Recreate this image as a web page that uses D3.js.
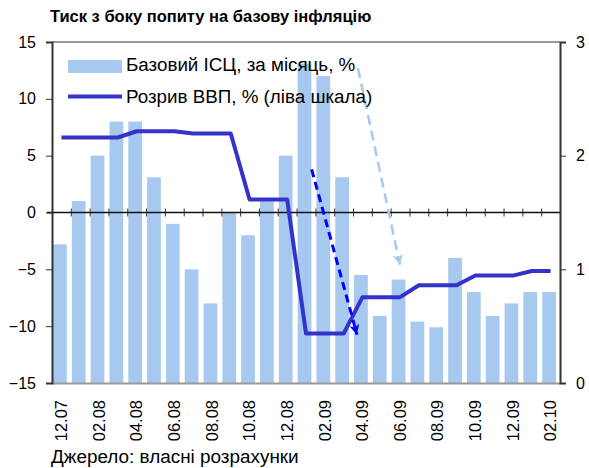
<!DOCTYPE html>
<html>
<head>
<meta charset="utf-8">
<script src="https://cdn.jsdelivr.net/npm/d3@7"></script>
<style>
  body { margin: 0; background: #fff; }
  text { font-family: "Liberation Sans", Arial, sans-serif; }
</style>
</head>
<body>
<div class="canvas"></div>
<script>
const w = 589;
const h = 468;

// data
const months = ["12.07", "01.08", "02.08", "03.08", "04.08", "05.08", "06.08", "07.08", "08.08",
  "09.08", "10.08", "11.08", "12.08", "01.09", "02.09", "03.09", "04.09", "05.09", "06.09",
  "07.09", "08.09", "09.09", "10.09", "11.09", "12.09", "01.10", "02.10"];
// core CPI, month on month, % (right axis)
const coreCpi = [1.22, 1.6, 2.0, 2.3, 2.3, 1.81, 1.4, 1.0, 0.7, 1.5, 1.3, 1.6, 2.0, 2.81,
  2.7, 1.81, 0.95, 0.59, 0.91, 0.54, 0.49, 1.1, 0.8, 0.59, 0.7, 0.8, 0.8];
// output gap, % (left axis)
const gdpGap = [6.6, 6.6, 6.6, 6.6, 7.15, 7.15, 7.15, 6.95, 6.95, 6.95, 1.15, 1.15, 1.15,
  -10.65, -10.65, -10.65, -7.45, -7.45, -7.45, -6.4, -6.4, -6.4, -5.55, -5.55, -5.55, -5.15, -5.15];
const leftTicks = [-15, -10, -5, 0, 5, 10, 15];
const rightTicks = [0, 1, 2, 3];
const labelMonths = months.filter((d, i) => i % 2 === 0);
// annotation arrows: [month index, left-axis value] start -> end
const arrows = [
  { from: [13.3, 3.8], to: [15.71, -10.75], color: "#0000ff", dash: "8,5", id: "dark" },
  { from: [15.76, 12.7], to: [17.99, -4.6], color: "#a7c9ef", dash: "10,6", id: "light" }
];

const margin = { top: 42, right: 29, bottom: 85, left: 52 };
const graphWidth = w - margin.left - margin.right;
const graphHeight = h - margin.top - margin.bottom;

const svg = d3.select(".canvas").append("svg").attr("width", w).attr("height", h);

const x = d3.scaleBand().domain(months).range([0, graphWidth]).paddingInner(0.27).paddingOuter(0.135);
const xi = d3.scaleLinear().domain([-0.5, months.length - 0.5]).range([0, graphWidth]);
const yL = d3.scaleLinear().domain([-15, 15]).range([graphHeight, 0]);
const yR = d3.scaleLinear().domain([0, 3]).range([graphHeight, 0]);

const defs = svg.append("defs");
arrows.forEach((a) => {
  defs.append("marker")
    .attr("id", "head-" + a.id)
    .attr("viewBox", "0 0 10 10")
    .attr("refX", 10).attr("refY", 5)
    .attr("markerUnits", "userSpaceOnUse")
    .attr("markerWidth", 12).attr("markerHeight", 10)
    .attr("orient", "auto")
    .append("path")
    .attr("d", "M0,0 L10,5 L0,10 L2.5,5 Z")
    .attr("fill", a.color);
});

// title
svg.append("text")
  .attr("x", 50).attr("y", 22)
  .style("font-weight", "bold").style("font-size", "16.5px")
  .text("Тиск з боку попиту на базову інфляцію");

const graph = svg.append("g").attr("transform", `translate(${margin.left}, ${margin.top})`);

// top frame line
graph.append("line")
  .attr("x1", 0).attr("x2", graphWidth).attr("y1", 0).attr("y2", 0)
  .attr("stroke", "#999").attr("stroke-width", 2);

// bars
graph.selectAll("rect.bar")
  .data(coreCpi)
  .enter()
  .append("rect")
  .attr("class", "bar")
  .attr("x", (d, i) => x(months[i]) - 1.5)
  .attr("y", (d) => yR(d))
  .attr("width", x.bandwidth())
  .attr("height", (d) => graphHeight - yR(d))
  .attr("fill", "#a7c9ef");

// zero line with crossing ticks
const zeroAxis = d3.axisBottom(xi)
  .tickValues(d3.range(0.5, months.length - 1, 1))
  .tickSize(8).tickFormat("");
graph.append("g")
  .attr("transform", `translate(0, ${yL(0) - 4})`)
  .call(zeroAxis)
  .call((g) => g.select(".domain").remove())
  .call((g) => g.selectAll("line").attr("stroke", "#333"));
graph.append("line")
  .attr("x1", -5).attr("x2", graphWidth).attr("y1", yL(0)).attr("y2", yL(0))
  .attr("stroke", "#111").attr("stroke-width", 1.5);

// line series
const line = d3.line().x((d, i) => xi(i)).y((d) => yL(d));
graph.append("path")
  .datum(gdpGap)
  .attr("d", line)
  .attr("fill", "none")
  .attr("stroke", "#3333cc")
  .attr("stroke-width", 4)
  .attr("stroke-linejoin", "round");

// annotation arrows
arrows.forEach((a) => {
  graph.append("line")
    .attr("x1", xi(a.from[0])).attr("y1", yL(a.from[1]))
    .attr("x2", xi(a.to[0])).attr("y2", yL(a.to[1]))
    .attr("stroke", a.color)
    .attr("stroke-width", a.id === "dark" ? 3 : 2.5)
    .attr("stroke-dasharray", a.dash)
    .attr("marker-end", `url(#head-${a.id})`);
});

// axes
const xAxis = d3.axisBottom(x).tickValues(labelMonths).tickSize(0);
graph.append("g")
  .attr("id", "x-axis")
  .attr("transform", `translate(0, ${graphHeight})`)
  .call(xAxis)
  .call((g) => g.select(".domain").attr("stroke", "#999").attr("stroke-width", 2))
  .selectAll("text")
  .attr("transform", "rotate(-90)")
  .attr("text-anchor", "end")
  .attr("x", -17).attr("y", 0).attr("dy", "0.35em")
  .style("font-size", "16.5px").attr("fill", "#000");

const yAxis = d3.axisLeft(yL).tickValues(leftTicks).tickSize(6).tickPadding(10).tickFormat(d3.format("d"));
graph.append("g")
  .attr("id", "y-axis")
  .call(yAxis)
  .call((g) => g.select(".domain").attr("stroke", "#333").attr("stroke-width", 2))
  .call((g) => g.selectAll("line").attr("stroke", "#333"))
  .selectAll("text").style("font-size", "16px").attr("fill", "#000");

const yAxisR = d3.axisRight(yR).tickValues(rightTicks).tickSize(6).tickPadding(10).tickFormat(d3.format("d"));
graph.append("g")
  .attr("id", "y-axis-right")
  .attr("transform", `translate(${graphWidth}, 0)`)
  .call(yAxisR)
  .call((g) => g.select(".domain").attr("stroke", "#333").attr("stroke-width", 2))
  .call((g) => g.selectAll("line").attr("stroke", "#333"))
  .selectAll("text").style("font-size", "16px").attr("fill", "#000");

// legend
const legend = svg.append("g");
legend.append("rect")
  .attr("x", 68).attr("y", 60).attr("width", 54).attr("height", 13)
  .attr("fill", "#a7c9ef");
legend.append("text")
  .attr("x", 126).attr("y", 71).style("font-size", "18.8px")
  .text("Базовий ІСЦ, за місяць, %");
legend.append("line")
  .attr("x1", 68).attr("x2", 122).attr("y1", 96.5).attr("y2", 96.5)
  .attr("stroke", "#3333cc").attr("stroke-width", 4);
legend.append("text")
  .attr("x", 126).attr("y", 103).style("font-size", "18.8px")
  .text("Розрив ВВП, % (ліва шкала)");

// source
svg.append("text")
  .attr("x", 51).attr("y", 463).style("font-size", "18.9px")
  .text("Джерело: власні розрахунки");
</script>
</body>
</html>
